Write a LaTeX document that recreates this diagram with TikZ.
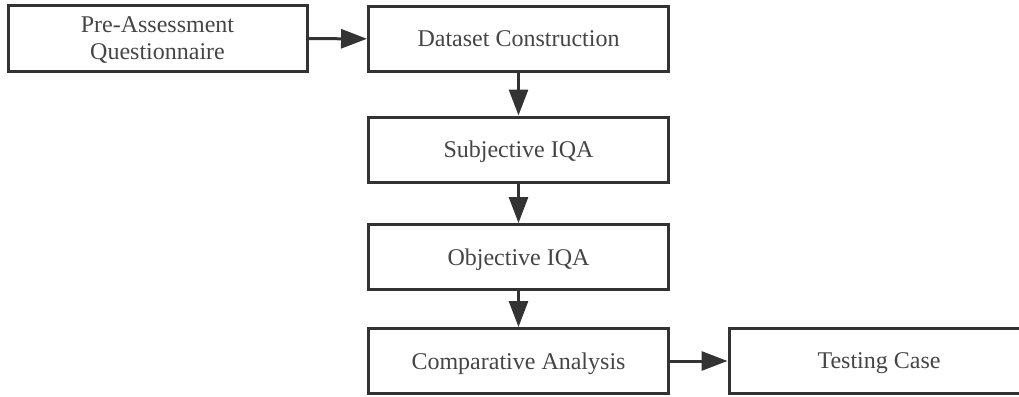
\documentclass[tikz,border=0pt]{standalone}
\usepackage{fontspec}
\setmainfont{Liberation Serif}
\usetikzlibrary{arrows.meta}
\definecolor{edge}{HTML}{333333}
\definecolor{ink}{HTML}{454545}
\begin{document}
\begin{tikzpicture}[x=1pt, y=-1pt,
    stage/.style={draw=edge, line width=3pt, minimum width=300pt, minimum height=65pt,
      inner sep=0pt, text depth=0pt, text=ink, align=center, font=\fontsize{24}{27}\selectfont},
    flow/.style={draw=edge, line width=3pt, -{Triangle[length=26pt, width=19pt]}}]
\def\cx{518.5}
\useasboundingbox (0,0) rectangle (1019,396);
% Left column
\node[stage, minimum width=299pt] (pre) at (157.5,38.5) {Pre-Assessment\\Questionnaire};
% Main column
\node[stage] (data) at (\cx,39) {Dataset Construction};
\node[stage] (subj) at (\cx,149.5) {Subjective IQA};
\node[stage] (obj) at (\cx,257) {Objective IQA};
\node[stage] (comp) at (\cx,361) {Comparative Analysis};
% Right end (cut off by the page)
\node[stage] (test) at (879,361) {Testing Case};
% Arrows
\draw[flow] (pre) -- (data);
\draw[flow] (data) -- (subj);
\draw[flow] (subj) -- (obj);
\draw[flow] (obj) -- (comp);
\draw[flow] (comp) -- (test);
\end{tikzpicture}
\end{document}
